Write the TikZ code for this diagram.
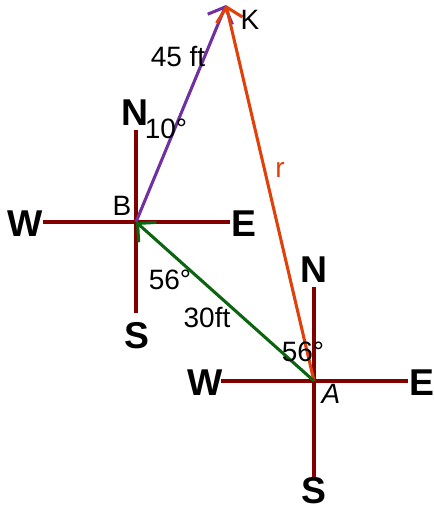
\documentclass[tikz,border=0pt]{standalone}
\usepackage{fontspec}
\setmainfont{Liberation Sans}
\usetikzlibrary{arrows.meta}
\definecolor{crossred}{HTML}{800000}
\definecolor{vpurple}{HTML}{7030A0}
\definecolor{vorange}{HTML}{E0400A}
\definecolor{vgreen}{HTML}{0B6410}
\begin{document}
\begin{tikzpicture}[x=0.75pt,y=-0.75pt,
  crossline/.style={draw=crossred,line width=2.3pt},
  dir/.style={font=\fontsize{28}{28}\selectfont\bfseries,inner sep=0pt},
  lbl/.style={font=\fontsize{21}{21}\selectfont,inner sep=0pt},
  vec/.style={line width=2.3pt,-{Straight Barb[length=10pt,width=20pt,line width=2.3pt]}}]
\useasboundingbox (0,0) rectangle (433,510);
% points
\coordinate (B) at (136,222);
\coordinate (A) at (314,381);
\coordinate (K) at (226,5);
% cross at B
\coordinate (BN) at (136,130);
\coordinate (BS) at (136,313);
\coordinate (BW) at (43,222);
\coordinate (BE) at (230,222);
\draw[crossline] (BN) -- (BS);
\draw[crossline] (BW) -- (BE);
\node[dir] (nB) at (135,113) {N};
\node[dir] (sB) at (137,336) {S};
\node[dir] (wB) at (25,224) {W};
\node[dir] (eB) at (244,224) {E};
% cross at A
\coordinate (AN) at (314,287);
\coordinate (AS) at (314,477);
\coordinate (AW) at (221,381);
\coordinate (AE) at (408,381);
\draw[crossline] (AN) -- (AS);
\draw[crossline] (AW) -- (AE);
\node[dir] (nA) at (314,270) {N};
\node[dir] (sA) at (314,491) {S};
\node[dir] (wA) at (205,383) {W};
\node[dir] (eA) at (422,383) {E};
% vectors
\draw[vec,vpurple] (B) -- (K);
\draw[vec,vorange] (A) -- (K);
\draw[vec,vgreen] (A) -- (B);
% labels
\node[lbl] (lK) at (250,20) {K};
\node[lbl] (l45) at (178,57) {45 ft};
\node[lbl] (l10) at (166,129) {10°};
\node[lbl] (lB) at (122,206) {B};
\node[lbl,text=vorange] (lr) at (280,170) {r};
\node[lbl] (l56a) at (170,280) {56°};
\node[lbl] (l30) at (207,318) {30ft};
\node[lbl] (l56b) at (303,352) {56°};
\node[lbl,font=\fontsize{21}{21}\selectfont\itshape] (lA) at (331,394) {A};
\end{tikzpicture}
\end{document}
